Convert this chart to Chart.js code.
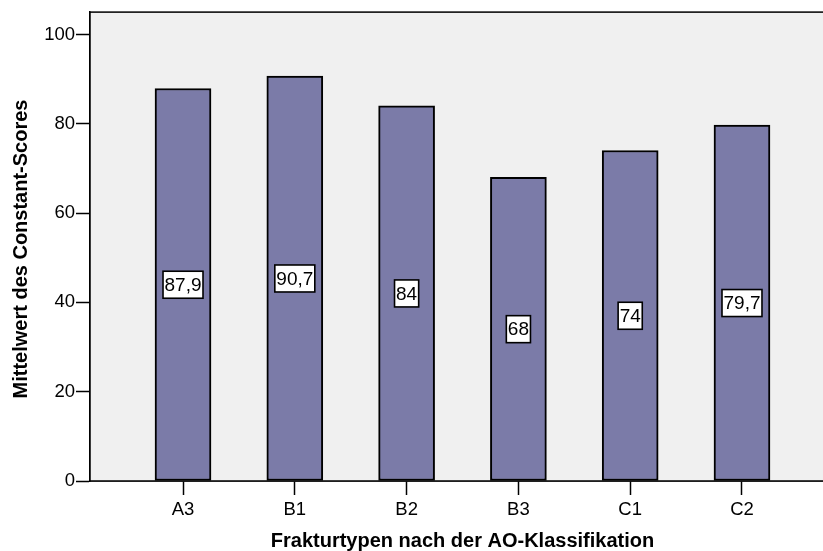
<!DOCTYPE html>
<html>
<head>
<meta charset="utf-8">
<script src="https://cdn.jsdelivr.net/npm/chart.js@4.4.1/dist/chart.umd.min.js"></script>
<style>
  html, body { margin: 0; padding: 0; background: #ffffff; overflow: hidden; }
  #wrap { width: 840px; height: 551px; }
</style>
</head>
<body>
<div id="wrap"><canvas id="c" width="840" height="551"></canvas></div>
<script>
const categories = ["A3", "B1", "B2", "B3", "C1", "C2"];
const meanScores = [87.9, 90.7, 84, 68, 74, 79.7];
const yTickValues = [0, 20, 40, 60, 80, 100];
const yTitle = "Mittelwert des Constant-Scores";
const xTitle = "Frakturtypen nach der AO-Klassifikation";

const FONT = "'Liberation Sans', Arial, Helvetica, sans-serif";

const plotFrame = {
  id: 'plotFrame',
  beforeDatasetsDraw(chart) {
    const { ctx, chartArea: a } = chart;
    ctx.save();
    ctx.fillStyle = '#f0f0f0';
    ctx.fillRect(a.left, a.top, a.right - a.left, a.bottom - a.top);
    ctx.restore();
  },
  afterDatasetsDraw(chart) {
    const { ctx, chartArea: a } = chart;
    ctx.save();
    ctx.strokeStyle = '#000';
    ctx.lineWidth = 1.5;
    ctx.strokeRect(a.left, a.top, a.right - a.left, a.bottom - a.top);
    ctx.restore();
  }
};

const valueBoxes = {
  id: 'valueBoxes',
  afterDatasetsDraw(chart) {
    const { ctx } = chart;
    const meta = chart.getDatasetMeta(0);
    const yScale = chart.scales.y;
    ctx.save();
    ctx.font = "19px " + FONT;
    ctx.textAlign = 'center';
    ctx.textBaseline = 'middle';
    meta.data.forEach((bar, i) => {
      const v = meanScores[i];
      const txt = String(v).replace('.', ',');
      const cy = yScale.getPixelForValue(v / 2);
      const w = ctx.measureText(txt).width + 3;
      const h = 27;
      ctx.fillStyle = '#fff';
      ctx.fillRect(bar.x - w / 2, cy - h / 2, w, h);
      ctx.strokeStyle = '#000';
      ctx.lineWidth = 1.6;
      ctx.strokeRect(bar.x - w / 2, cy - h / 2, w, h);
      ctx.fillStyle = '#000';
      ctx.fillText(txt, bar.x, cy + 1);
    });
    ctx.restore();
  }
};

const axisTitles = {
  id: 'axisTitles',
  afterDraw(chart) {
    const { ctx, chartArea: a } = chart;
    ctx.save();
    ctx.fillStyle = '#000';
    ctx.font = "bold 20px " + FONT;
    ctx.textAlign = 'center';
    ctx.textBaseline = 'alphabetic';
    ctx.fillText(xTitle, (a.left + a.right) / 2, 546.5);
    ctx.translate(27, 249);
    ctx.rotate(-Math.PI / 2);
    ctx.fillText(yTitle, 0, 0);
    ctx.restore();
  }
};

new Chart(document.getElementById('c'), {
  type: 'bar',
  data: {
    datasets: [{
      data: meanScores.map((v, i) => ({ x: i, y: v })),
      backgroundColor: '#7b7ba8',
      borderColor: '#000',
      borderWidth: 2,
      borderSkipped: false,
      barThickness: 56
    }]
  },
  options: {
    responsive: false,
    animation: false,
    layout: { padding: { top: 12, right: 5, bottom: 0, left: 0 } },
    plugins: { legend: { display: false }, tooltip: { enabled: false } },
    scales: {
      x: {
        type: 'linear',
        offset: false,
        min: -0.832,
        max: 5.832,
        afterBuildTicks(s) { s.ticks = categories.map((_, i) => ({ value: i })); },
        afterFit(s) { s.height = 70; },
        ticks: {
          callback: (v) => categories[v] ?? '',
          font: { family: FONT, size: 18.5 },
          color: '#000',
          padding: 4,
          maxRotation: 0,
          autoSkip: false
        },
        grid: { offset: false, drawOnChartArea: false, tickLength: 14, tickColor: '#000', tickWidth: 1.5 },
        border: { display: true, color: '#000', width: 1.5 }
      },
      y: {
        min: 0,
        max: 105,
        afterBuildTicks(s) { s.ticks = yTickValues.map(v => ({ value: v })); },
        afterFit(s) { s.width = 90; },
        ticks: {
          font: { family: FONT, size: 18.5 },
          color: '#000',
          padding: 1
        },
        grid: { drawOnChartArea: false, tickLength: 14, tickColor: '#000', tickWidth: 1.5 },
        border: { display: true, color: '#000', width: 1.5 }
      }
    }
  },
  plugins: [plotFrame, valueBoxes, axisTitles]
});
</script>
</body>
</html>
